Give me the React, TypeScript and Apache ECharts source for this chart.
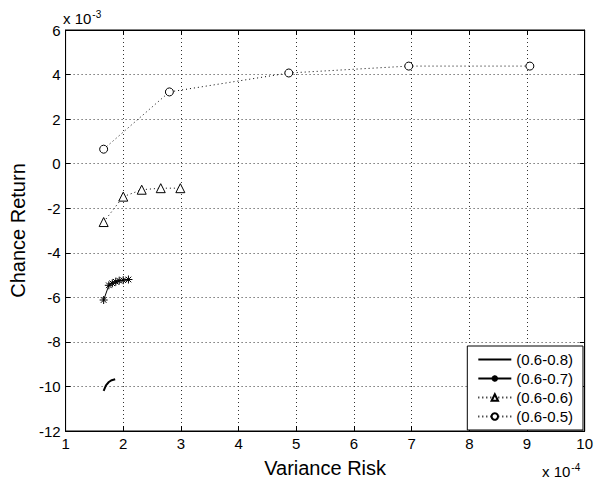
import React, { useEffect, useRef } from "react";
import * as echarts from "echarts";

const seriesNames = ["(0.6-0.8)", "(0.6-0.7)", "(0.6-0.6)", "(0.6-0.5)"];
const xTicks = [1, 2, 3, 4, 5, 6, 7, 8, 9, 10];
const yTicks = [-12, -10, -8, -6, -4, -2, 0, 2, 4, 6];

// x in units of 1e-4, y in units of 1e-3
const s08x = [1.66, 1.7, 1.75, 1.8, 1.86];
const s08y = [-10.2, -9.95, -9.8, -9.72, -9.68];
const s07x = [1.66, 1.75, 1.81, 1.87, 1.93, 2.0, 2.09];
const s07y = [-6.12, -5.46, -5.37, -5.3, -5.25, -5.23, -5.2];
const s06x = [1.66, 2.0, 2.32, 2.65, 2.99];
const s06y = [-2.62, -1.48, -1.17, -1.1, -1.1];
const s05x = [1.66, 2.8, 4.87, 6.95, 9.05];
const s05y = [0.65, 3.22, 4.07, 4.38, 4.38];

const zip = (xs: number[], ys: number[]) => xs.map((x, i) => [x, ys[i]]);

const starPath =
  "path://M5,0 L5,10 M0,5 L10,5 M1.5,1.5 L8.5,8.5 M8.5,1.5 L1.5,8.5";

export default function App() {
  const ref = useRef<HTMLDivElement>(null);
  useEffect(() => {
    if (!ref.current) return;
    const chart = echarts.init(ref.current, undefined, { renderer: "svg" });
    const font = "Arial, 'Liberation Sans', sans-serif";
    const gridLine = { show: true, lineStyle: { color: "#333", type: [1, 3] as any, width: 1 } };
    const supRich = { sup: { fontSize: 10, verticalAlign: "top", padding: [0, 0, 9, 1] } };
    chart.setOption({
      animation: false,
      backgroundColor: "#fff",
      textStyle: { fontFamily: font, color: "#000" },
      grid: { left: 64, top: 30, right: 11, bottom: 51, show: true, borderColor: "#000", borderWidth: 1 },
      xAxis: [
        {
          type: "value",
          min: 1,
          max: 10,
          interval: 1,
          name: "Variance Risk",
          nameLocation: "middle",
          nameGap: 27,
          nameTextStyle: { fontSize: 20, color: "#000", fontFamily: font },
          axisLine: { onZero: false, lineStyle: { color: "#000" } },
          axisTick: { inside: true, length: 5, lineStyle: { color: "#000" } },
          axisLabel: { fontSize: 15, color: "#000", margin: 5, fontFamily: font, formatter: (v: number) => (xTicks.includes(v) ? String(v) : "") },
          splitLine: gridLine,
        },
        {
          type: "value",
          position: "top",
          min: 1,
          max: 10,
          interval: 1,
          axisLine: { onZero: false, lineStyle: { color: "#000" } },
          axisTick: { inside: true, length: 5, lineStyle: { color: "#000" } },
          axisLabel: { show: false },
          splitLine: { show: false },
        },
      ],
      yAxis: [
        {
          type: "value",
          min: -12,
          max: 6,
          interval: 2,
          name: "Chance Return",
          nameLocation: "middle",
          nameGap: 34,
          nameTextStyle: { fontSize: 20, color: "#000", fontFamily: font },
          axisLine: { onZero: false, lineStyle: { color: "#000" } },
          axisTick: { inside: true, length: 5, lineStyle: { color: "#000" } },
          axisLabel: { fontSize: 15, color: "#000", margin: 5, fontFamily: font, formatter: (v: number) => (yTicks.includes(v) ? String(v) : "") },
          splitLine: gridLine,
        },
        {
          type: "value",
          position: "right",
          min: -12,
          max: 6,
          interval: 2,
          axisLine: { onZero: false, lineStyle: { color: "#000" } },
          axisTick: { inside: true, length: 5, lineStyle: { color: "#000" } },
          axisLabel: { show: false },
          splitLine: { show: false },
        },
      ],
      legend: {
        orient: "vertical",
        right: 13,
        bottom: 53,
        backgroundColor: "#fff",
        borderColor: "#000",
        borderWidth: 1,
        borderRadius: 0,
        padding: [6, 10, 6, 10],
        itemGap: 4,
        itemWidth: 33,
        itemHeight: 8,
        textStyle: { fontSize: 15, color: "#000", fontFamily: font },
        data: [
          { name: seriesNames[0], itemStyle: { opacity: 0 } },
          { name: seriesNames[1] },
          { name: seriesNames[2] },
          { name: seriesNames[3] },
        ],
      },
      graphic: [
        {
          type: "text",
          left: 63,
          top: 9,
          style: {
            text: "x 10{sup|-3}",
            fontSize: 15,
            fontFamily: font,
            fill: "#000",
            rich: supRich,
          },
        },
        {
          type: "text",
          left: 542,
          top: 462,
          style: {
            text: "x 10{sup|-4}",
            fontSize: 15,
            fontFamily: font,
            fill: "#000",
            rich: supRich,
          },
        },
      ],
      series: [
        {
          name: seriesNames[0],
          type: "line",
          data: zip(s08x, s08y),
          symbol: "none",
          lineStyle: { color: "#000", width: 2 },
          itemStyle: { color: "#000" },
        },
        {
          name: seriesNames[1],
          type: "line",
          data: zip(s07x, s07y),
          symbol: starPath,
          symbolSize: 8,
          lineStyle: { color: "#000", width: 1 },
          itemStyle: { color: "none", borderColor: "#000", borderWidth: 1 },
        },
        {
          name: seriesNames[2],
          type: "line",
          data: zip(s06x, s06y),
          symbol: "triangle",
          symbolSize: 9,
          lineStyle: { color: "#000", width: 1, type: [1, 3] as any },
          itemStyle: { color: "#fff", borderColor: "#000", borderWidth: 1 },
        },
        {
          name: seriesNames[3],
          type: "line",
          data: zip(s05x, s05y),
          symbol: "circle",
          symbolSize: 8,
          lineStyle: { color: "#000", width: 1, type: [1, 3] as any },
          itemStyle: { color: "#fff", borderColor: "#000", borderWidth: 1 },
        },
      ],
    });
    return () => chart.dispose();
  }, []);
  return <div ref={ref} style={{ width: 596, height: 483, position: "absolute", left: 0, top: 0 }} />;
}
